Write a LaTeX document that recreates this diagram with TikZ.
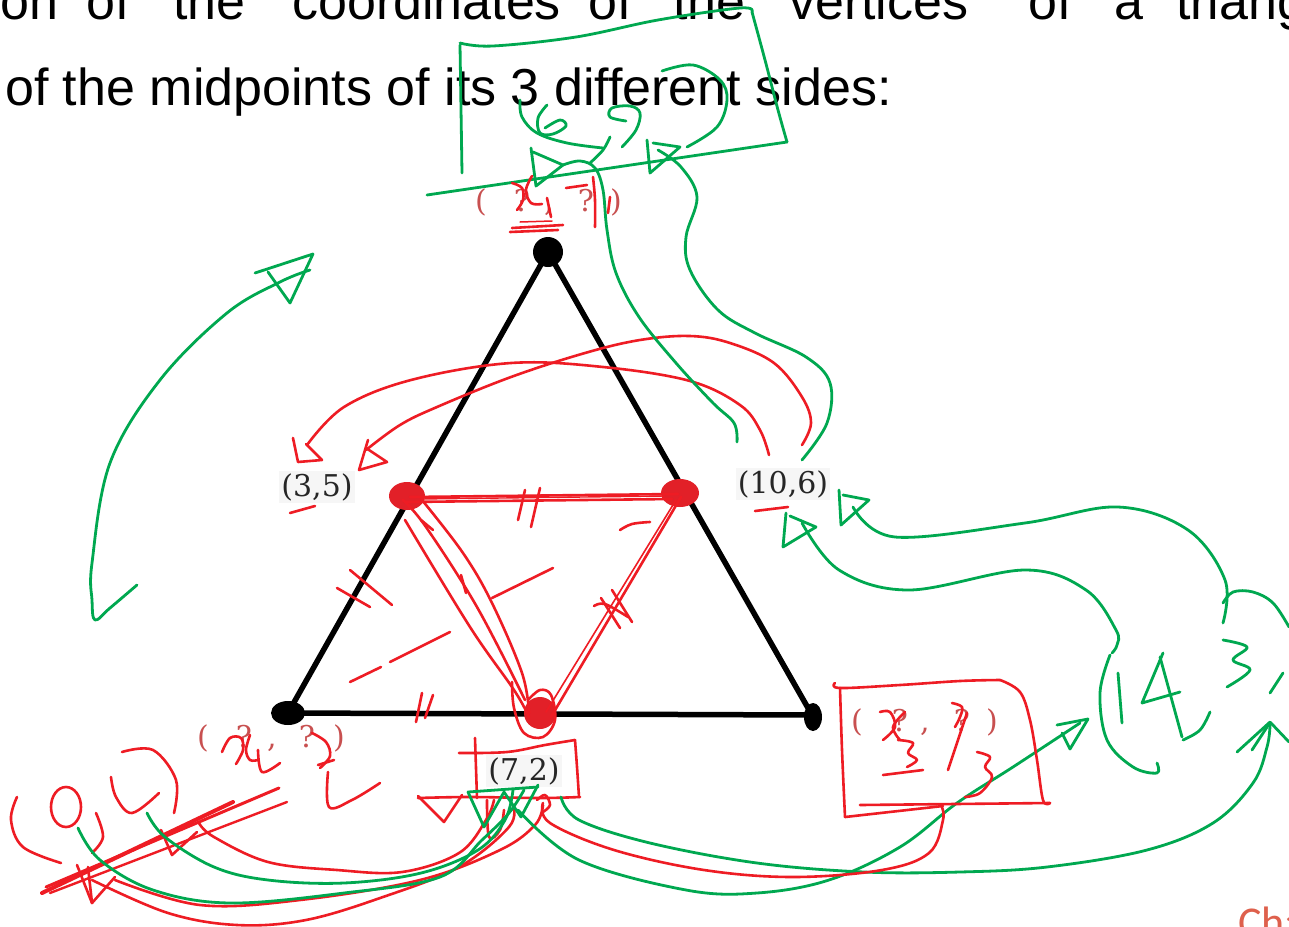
\documentclass[tikz,border=0pt]{standalone}
\usepackage{fontspec}
\setmainfont{Liberation Sans}
\newfontfamily\labfont{DejaVu Serif}
\newfontfamily\chfont{Carlito}
\definecolor{hgreen}{RGB}{0,168,80}
\definecolor{hred}{RGB}{238,28,36}
\definecolor{dotred}{RGB}{226,32,40}
\definecolor{qred}{RGB}{200,80,80}
\definecolor{chred}{RGB}{222,96,76}
\definecolor{labbg}{RGB}{246,246,246}
\begin{document}
\begin{tikzpicture}[x=1pt,y=-1pt,
  gpen/.style={draw=hgreen,line width=2.8pt,line cap=round,line join=round},
  rpen/.style={draw=hred,line width=2.6pt,line cap=round,line join=round},
  fh/.style={smooth,tension=0.6},
  headtext/.style={anchor=base west,inner sep=0pt,font=\fontsize{52}{52}\selectfont},
  blab/.style={inner sep=2pt,fill=labbg,text=black!85,font=\labfont\fontsize{30}{30}\selectfont},
  qlab/.style={anchor=base,inner sep=0pt,text=qred,font=\labfont\fontsize{30}{30}\selectfont}]
\clip (0,0) rectangle (1289,926);
\fill[white] (0,0) rectangle (1289,926);

% ---------- printed text ----------
\node[headtext] (w1) at (0,19) {on};
\node[headtext] (w2) at (86,19) {of};
\node[headtext] (w3) at (173,19) {the};
\node[headtext] (w4) at (292,19) {coordinates};
\node[headtext] (w5) at (588,19) {of};
\node[headtext] (w6) at (673,19) {the};
\node[headtext] (w7) at (789,19) {vertices};
\node[headtext] (w8) at (1028,19) {of};
\node[headtext] (w9) at (1114,19) {a};
\node[headtext] (w10) at (1176,19) {triangle};
\node[headtext] (l2) at (5,105) {of the midpoints of its 3 different sides:};
\node[anchor=base west,inner sep=0pt,text=chred,font=\chfont\fontsize{44}{44}\selectfont] (ch) at (1238,937) {Chapter};

% ---------- triangle ----------
\coordinate (T) at (548,252);
\coordinate (L) at (288,713);
\coordinate (R) at (812,715);
\draw[line width=5.5pt,line join=round] (T) -- (L) -- (R) -- cycle;
\fill (T) circle[radius=15];
\fill (L) ellipse[x radius=17,y radius=12];
\fill (813,717) ellipse[x radius=9,y radius=14];
\fill[dotred] (407,496) ellipse[x radius=18,y radius=14];
\fill[dotred] (680,493) ellipse[x radius=19,y radius=14];
\fill[dotred] (540,713) circle[radius=16];

% ---------- printed labels ----------
\node[blab] (p35) at (317,487) {(3,5)};
\node[blab] (p106) at (783,484) {(10,6)};
\node[blab] (p72) at (524,771) {(7,2)};
\node[qlab] (qa1) at (481,211) {(};
\node[qlab] (qa2) at (522,211) {?};
\node[qlab] (qa3) at (549,211) {,};
\node[qlab] (qa4) at (586,211) {?};
\node[qlab] (qa5) at (616,211) {)};
\node[qlab] (qb1) at (203,747) {(};
\node[qlab] (qb2) at (244,747) {?};
\node[qlab] (qb3) at (272,747) {,};
\node[qlab] (qb4) at (307,747) {?};
\node[qlab] (qb5) at (339,747) {)};
\node[qlab] (qc1) at (857,731) {(};
\node[qlab] (qc2) at (900,731) {?};
\node[qlab] (qc3) at (925,731) {,};
\node[qlab] (qc4) at (962,731) {?};
\node[qlab] (qc5) at (992,731) {)};

% ---------- red marks inside the triangle ----------
\draw[rpen] (410,497) -- (678,494);
\draw[rpen] (405,502) -- (672,499);
\draw[rpen,line width=1.4pt] (420,499) -- (665,496);
\draw[rpen] (525,490) -- (518,520);
\draw[rpen] (540,488) -- (531,527);
\draw[rpen] plot[fh] coordinates {(403,500) (426,527) (477,607) (525,700)};
\draw[rpen] plot[fh] coordinates {(422,500) (463,553) (492,603) (522,673) (529,713)};
\draw[rpen] plot[fh] coordinates {(405,520) (470,627) (514,690) (529,717)};
\draw[rpen] plot[fh] coordinates {(512,682) (514,708) (524,733) (543,737) (555,720) (551,695) (540,690) (528,700)};
\draw[rpen] (681,497) -- (551,717);
\draw[rpen,line width=1.6pt] (676,500) -- (546,712);
\draw[rpen] (612,590) -- (632,622);
\draw[rpen] (601,598) -- (620,628);
\draw[rpen] plot[fh] coordinates {(594,606) (605,604) (628,617)};
\draw[rpen] (337,588) -- (370,607);
\draw[rpen] (350,570) -- (392,605);
\draw[rpen] (422,693) -- (416,722);
\draw[rpen] (433,695) -- (425,718);
\draw[rpen] (492,598) -- (553,568);
\draw[rpen] (350,682) -- (381,667);
\draw[rpen] (390,662) -- (450,632);
\draw[rpen] plot[fh] coordinates {(620,530) (632,524) (650,522)};
\draw[rpen] (421,520) -- (433,530);
\draw[rpen] (461,575) -- (466,593);

% ---------- red arrows (10,6) -> (3,5) ----------
\draw[rpen] plot[fh] coordinates {(307,445) (344,407) (411,380) (511,363) (603,367) (690,381) (740,405) (760,430) (769,455)};
\draw[rpen] (293,438) -- (298,462) -- (322,460) -- (306,444);
\draw[rpen] plot[fh] coordinates {(366,450) (400,425) (437,407) (511,377) (585,353) (640,340) (690,336) (730,343) (774,363) (802,397) (811,423) (802,445)};
\draw[rpen] (368,440) -- (359,470) -- (387,462) -- (366,448);
\draw[rpen] (290,513) -- (315,506);
\draw[rpen] (755,511) -- (788,507);

% ---------- green box with (6,9) at the top ----------
\draw[gpen] (462,173) -- (460,45);
\draw[gpen] plot[fh] coordinates {(460,43) (493,46) (576,37) (658,20) (740,8) (752,12)};
\draw[gpen] plot[fh] coordinates {(752,12) (765,60) (778,110) (787,142)};
\draw[gpen] (787,142) -- (427,195);
\draw[gpen] plot[fh] coordinates {(520,100) (522,117) (537,133) (567,143) (603,148)};
\draw[gpen] plot[fh] coordinates {(547,105) (538,118) (540,133) (553,134) (566,126) (560,120) (545,128)};
\draw[gpen] plot[fh] coordinates {(610,137) (603,150) (590,163)};
\draw[gpen] plot[fh] coordinates {(626,121) (610,117) (612,108) (630,106) (640,113) (636,130) (622,147)};
\draw[gpen] plot[fh] coordinates {(662,71) (693,65) (720,80) (727,100) (717,127) (687,147)};
% green arrows from (10,6) to the top label
\draw[gpen] (531,148) -- (536,186) -- (563,165) -- (533,152);
\draw[gpen] plot[fh] coordinates {(563,165) (580,161) (595,168) (603,190) (607,230) (616,273) (639,317) (676,363) (713,403) (734,423) (737,442)};
\draw[gpen] (647,140) -- (650,173) -- (680,147) -- (653,143);
\draw[gpen] plot[fh] coordinates {(658,150) (681,167) (697,197) (686,237) (690,270) (718,310) (755,333) (806,357) (830,383) (827,423) (802,460)};

% ---------- red handwriting at the top label ----------
\draw[rpen] plot[fh] coordinates {(512,183) (522,188) (523,200) (517,210)};
\draw[rpen] plot[fh] coordinates {(532,176) (526,190) (531,203) (542,204)};
\draw[rpen] (547,198) -- (551,217);
\draw[rpen] (512,228) -- (563,225);
\draw[rpen] (510,232) -- (558,230);
\draw[rpen,line width=1.5pt] (520,222) -- (552,221);
\draw[rpen] (566,188) -- (587,185);
\draw[rpen] plot[fh] coordinates {(593,177) (595,200) (595,227)};
\draw[rpen] (610,197) -- (608,213);

% ---------- left green arrow ----------
\draw[gpen] plot[fh] coordinates {(137,585) (110,608) (95,620) (92,600) (92,563) (110,463) (160,380) (227,313) (280,282) (310,270)};
\draw[gpen] (255,273) -- (313,254) -- (290,303) -- (268,272);

% ---------- red handwriting at the left label ----------
\draw[rpen] plot[fh] coordinates {(222,752) (230,738) (241,738) (243,750) (236,764)};
\draw[rpen] plot[fh] coordinates {(250,735) (246,750) (250,760) (258,760)};
\draw[rpen] plot[fh] coordinates {(258,750) (262,772) (280,763)};
\draw[rpen] plot[fh] coordinates {(312,733) (326,742) (330,756) (320,768)};
\draw[rpen] (318,765) -- (334,760);
\draw[rpen] plot[fh] coordinates {(328,772) (329,807) (352,800) (380,783)};

% ---------- red (0,1) ----------
\draw[rpen] plot[fh] coordinates {(17,797) (11,820) (23,847) (61,863)};
\draw[rpen] (66,807) ellipse[x radius=15,y radius=20];
\draw[rpen] plot[fh] coordinates {(96,813) (103,837) (92,853)};
\draw[rpen] plot[fh] coordinates {(111,777) (116,797) (132,813) (159,793)};
\draw[rpen] plot[fh] coordinates {(122,752) (153,750) (176,780) (174,813)};
\draw[rpen,line width=4pt] (42,893) -- (233,802);
\draw[rpen,line width=3pt] (46,887) -- (279,788);
\draw[rpen,line width=2.4pt] (50,893) -- (287,802);
\draw[rpen] (77,865) -- (92,903) -- (115,877);
\draw[rpen] (88,867) -- (92,903);
\draw[rpen] (161,830) -- (172,855) -- (197,832);

% ---------- red box round (7,2) ----------
\draw[rpen] (475,738) -- (477,798);
\draw[rpen] plot[fh] coordinates {(459,753) (507,752) (545,745) (575,740)};
\draw[rpen] plot[fh] coordinates {(575,740) (577,767) (579,797)};
\draw[rpen] plot[fh] coordinates {(418,798) (470,797) (540,798) (580,797)};
\draw[rpen] (418,796) -- (444,822) -- (462,795);
\draw[rpen] plot[fh] coordinates {(487,800) (489,837) (500,830) (504,810)};

% ---------- curves between (0,1) and (7,2) ----------
\draw[rpen] plot[fh] coordinates {(199,823) (214,837) (268,862) (337,870) (402,872) (459,853) (486,820) (494,800)};
\draw[rpen] plot[fh] coordinates {(92,880) (168,913) (237,925) (306,920) (383,897) (459,867) (509,827) (513,805)};
\draw[rpen] plot[fh] coordinates {(115,880) (200,905) (300,900) (420,880) (500,850) (535,825) (543,805)};
\draw[rpen] plot[fh] coordinates {(537,800) (545,795) (550,805) (543,812)};
\draw[gpen] plot[fh] coordinates {(78,828) (100,860) (153,890) (230,903) (344,893) (440,877) (482,840) (509,813) (524,790)};
\draw[gpen] plot[fh] coordinates {(147,813) (165,837) (214,867) (268,880) (344,883) (421,873) (478,850) (505,820) (513,790)};
\draw[gpen] (468,792) -- (484,827) -- (504,792) -- (521,817) -- (538,785);
\draw[gpen] (468,792) -- (538,787);

% ---------- curves to the right ----------
\draw[gpen] plot[fh] coordinates {(561,797) (579,820) (650,843) (757,863) (864,872) (960,872) (1047,867) (1147,850) (1213,823) (1253,783) (1267,747) (1270,725)};
\draw[gpen] (1237,752) -- (1270,722) -- (1289,742);
\draw[gpen] (1252,750) -- (1269,724);
\draw[gpen] plot[fh] coordinates {(518,810) (579,860) (686,890) (757,893) (829,880) (900,847) (957,803) (1013,767) (1080,723)};
\draw[gpen] (1057,725) -- (1088,719) -- (1070,749) -- (1062,733);
\draw[rpen] plot[fh] coordinates {(543,803) (550,823) (614,850) (704,870) (793,877) (882,870) (929,853) (943,820) (941,805)};

% ---------- red box round (x3,y3) ----------
\draw[rpen] plot[fh] coordinates {(835,683) (840,688) (900,685) (960,681) (1000,680)};
\draw[rpen] plot[fh] coordinates {(1000,680) (1020,692) (1030,720) (1037,760) (1043,800) (1050,803)};
\draw[rpen] (860,805) -- (1050,803);
\draw[rpen] (845,817) -- (943,806);
\draw[rpen] plot[fh] coordinates {(840,688) (842,750) (845,817)};
\draw[rpen] plot[fh] coordinates {(880,712) (890,712) (895,727) (883,740)};
\draw[rpen] plot[fh] coordinates {(905,712) (893,727) (900,740)};
\draw[rpen] plot[fh] coordinates {(898,740) (913,743) (908,753) (917,760) (907,767)};
\draw[rpen] (883,775) -- (923,770);
\draw[rpen] plot[fh] coordinates {(952,703) (962,707) (960,717) (955,727)};
\draw[rpen] (967,713) -- (948,770);
\draw[rpen] plot[fh] coordinates {(977,752) (990,757) (985,767) (992,777) (980,793) (965,797)};

% ---------- green arrows (14,3) -> (10,6) ----------
\draw[gpen] (786,513) -- (783,547) -- (816,527) -- (790,516);
\draw[gpen] plot[fh] coordinates {(802,523) (839,570) (909,590) (1025,570) (1086,590) (1116,630) (1117,645) (1112,653)};
\draw[gpen] (839,490) -- (841,525) -- (869,500) -- (843,495);
\draw[gpen] plot[fh] coordinates {(853,507) (895,537) (1025,523) (1118,507) (1188,530) (1225,580) (1223,623)};
\draw[gpen] plot[fh] coordinates {(1223,603) (1233,592) (1253,592) (1273,603) (1289,627)};

% ---------- green (14,3) ----------
\draw[gpen] plot[fh] coordinates {(1110,655) (1100,693) (1107,740) (1133,767) (1157,773) (1157,763)};
\draw[gpen] (1118,673) -- (1122,723);
\draw[gpen] (1163,653) -- (1142,703) -- (1180,692);
\draw[gpen] (1160,657) -- (1182,737);
\draw[gpen] plot[fh] coordinates {(1210,712) (1200,730) (1183,740)};
\draw[gpen] plot[fh] coordinates {(1223,640) (1247,647) (1233,660) (1250,670) (1227,687)};
\draw[gpen] (1283,673) -- (1270,693);
\end{tikzpicture}
\end{document}
